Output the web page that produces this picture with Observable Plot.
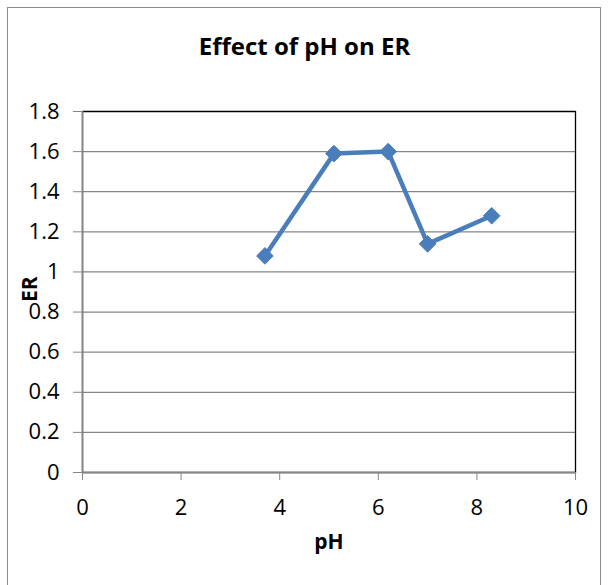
<!DOCTYPE html>
<html>
<head>
<meta charset="utf-8">
<script src="https://cdn.jsdelivr.net/npm/d3@7"></script>
<script src="https://cdn.jsdelivr.net/npm/@observablehq/plot@0.6"></script>
<style>
  html, body { margin: 0; padding: 0; background: #fff; }
  #wrap { position: relative; width: 609px; height: 585px; overflow: hidden; font-family: "Open Sans", "Liberation Sans", sans-serif; }
  #border { position: absolute; left: 7px; top: 7px; width: 594px; height: 600px; border: 1px solid #8c8c8c; box-sizing: border-box; }
  #title { position: absolute; left: 0; width: 609px; top: 29px; line-height: 33px; text-align: center; font-weight: bold; font-size: 24px; color: #000; }
  #chart { position: absolute; left: 0; top: 0; }
  #chart svg g[aria-label$="tick label"],
  #chart svg g[aria-label$="tick label"] text { font-size: 22px !important; }
</style>
</head>
<body>
<div id="wrap">
  <div id="border"></div>
  <div id="chart"></div>
  <div id="title">Effect of pH on ER</div>
</div>
<script>
const pH = [3.7, 5.1, 6.2, 7.0, 8.3];
const ER = [1.08, 1.59, 1.60, 1.14, 1.28];
const xTicks = [0, 2, 4, 6, 8, 10];
const yTicks = [0, 0.2, 0.4, 0.6, 0.8, 1, 1.2, 1.4, 1.6, 1.8];
const xLabel = "pH";
const yLabel = "ER";

const data = pH.map((x, i) => ({pH: x, ER: ER[i]}));
const blue = "#4A7EBB";
const grid = "#868686";

const chart = Plot.plot({
  width: 609,
  height: 585,
  marginLeft: 82,
  marginRight: 34,
  marginTop: 111,
  marginBottom: 113,
  style: {fontFamily: "'Open Sans', 'Liberation Sans', sans-serif", fontSize: "22px", color: "#000", background: "transparent"},
  x: {domain: [0, 10]},
  y: {domain: [0, 1.8]},
  marks: [
    Plot.ruleY(yTicks, {stroke: grid, strokeWidth: 1.3}),
    Plot.frame({stroke: "#000", strokeWidth: 1.3}),
    Plot.ruleX([0], {stroke: grid, strokeWidth: 1.6}),
    Plot.ruleY([0], {stroke: grid, strokeWidth: 1.6}),
    Plot.axisX({ticks: xTicks, tickFormat: d => String(d), tickSize: 8, tickPadding: 19, stroke: grid, label: null, fontSize: 22}),
    Plot.axisY({ticks: yTicks, tickFormat: d => String(+d.toFixed(1)), tickSize: 9, tickPadding: 14, stroke: grid, label: null, fontSize: 22}),
    Plot.text([xLabel], {frameAnchor: "bottom", dy: 76, fontWeight: "bold", fontSize: 21}),
    Plot.text([yLabel], {frameAnchor: "left", dx: -52, dy: 10, rotate: -90, fontWeight: "bold", fontSize: 21}),
    Plot.line(data, {x: "pH", y: "ER", stroke: blue, strokeWidth: 4.5, strokeLinejoin: "round"}),
    Plot.dot(data, {x: "pH", y: "ER", symbol: "diamond2", r: 7.5, fill: blue, stroke: blue, strokeWidth: 1})
  ]
});
document.getElementById("chart").appendChild(chart);
</script>
</body>
</html>
